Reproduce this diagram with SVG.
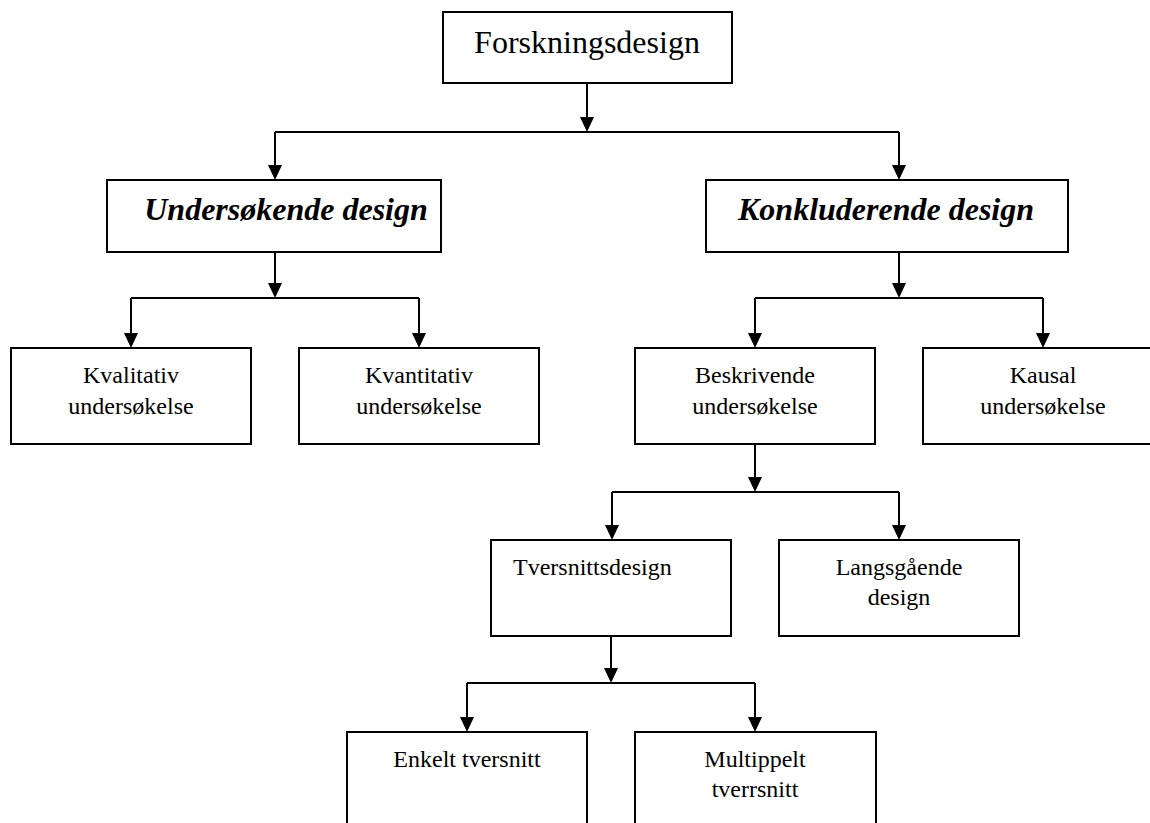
<svg xmlns="http://www.w3.org/2000/svg" width="1150" height="823" viewBox="0 0 1150 823">
<style>
.box{fill:#fff;stroke:#000;stroke-width:2}
.t{font-family:"Liberation Serif",Tinos,"Times New Roman","DejaVu Serif",serif;fill:#000;text-anchor:middle}
.s24{font-size:24px}
.s32{font-size:32px}
.bi{font-weight:bold;font-style:italic}
.c{fill:none;stroke:#000;stroke-width:2}
</style>
<rect width="1150" height="823" fill="#fff"/>
<g id="connectors">
<path class="c" d="M587,83 V118"/><polygon points="580,117 594,117 587,132"/>
<path class="c" d="M275,132 H899"/>
<path class="c" d="M275,132 V166"/><polygon points="268,165 282,165 275,180"/>
<path class="c" d="M899,132 V166"/><polygon points="892,165 906,165 899,180"/>
<path class="c" d="M275,252 V284"/><polygon points="268,283 282,283 275,298"/>
<path class="c" d="M131,298 H419"/>
<path class="c" d="M131,298 V334"/><polygon points="124,333 138,333 131,348"/>
<path class="c" d="M419,298 V334"/><polygon points="412,333 426,333 419,348"/>
<path class="c" d="M899,252 V284"/><polygon points="892,283 906,283 899,298"/>
<path class="c" d="M755,298 H1043"/>
<path class="c" d="M755,298 V334"/><polygon points="748,333 762,333 755,348"/>
<path class="c" d="M1043,298 V334"/><polygon points="1036,333 1050,333 1043,348"/>
<path class="c" d="M755,444 V478"/><polygon points="748,477 762,477 755,492"/>
<path class="c" d="M612,492 H899"/>
<path class="c" d="M612,492 V526"/><polygon points="605,525 619,525 612,540"/>
<path class="c" d="M899,492 V526"/><polygon points="892,525 906,525 899,540"/>
<path class="c" d="M611,636 V669"/><polygon points="604,668 618,668 611,683"/>
<path class="c" d="M467,683 H755"/>
<path class="c" d="M467,683 V718"/><polygon points="460,717 474,717 467,732"/>
<path class="c" d="M755,683 V718"/><polygon points="748,717 762,717 755,732"/>
</g>
<g id="forskningsdesign"><rect class="box" x="443" y="12" width="289" height="71"/><text class="t s32" x="587" y="53" font-family="Liberation Serif, serif">Forskningsdesign</text></g>
<g id="undersokende"><rect class="box" x="107" y="180" width="334" height="72"/><text class="t s32 bi" x="286" y="220">Undersøkende design</text></g>
<g id="konkluderende"><rect class="box" x="706" y="180" width="362" height="72"/><text class="t s32 bi" x="886" y="220">Konkluderende design</text></g>
<g id="kvalitativ"><rect class="box" x="11" y="348" width="240" height="96"/><text class="t s24" x="131" y="383">Kvalitativ</text><text class="t s24" x="131" y="414">undersøkelse</text></g>
<g id="kvantitativ"><rect class="box" x="299" y="348" width="240" height="96"/><text class="t s24" x="419" y="383">Kvantitativ</text><text class="t s24" x="419" y="414">undersøkelse</text></g>
<g id="beskrivende"><rect class="box" x="635" y="348" width="240" height="96"/><text class="t s24" x="755" y="383">Beskrivende</text><text class="t s24" x="755" y="414">undersøkelse</text></g>
<g id="kausal"><rect class="box" x="923" y="348" width="240" height="96"/><text class="t s24" x="1043" y="383">Kausal</text><text class="t s24" x="1043" y="414">undersøkelse</text></g>
<g id="tversnittsdesign"><rect class="box" x="491" y="540" width="240" height="96"/><text class="t s24" x="513" y="575" style="text-anchor:start">Tversnittsdesign</text></g>
<g id="langsgaende"><rect class="box" x="779" y="540" width="240" height="96"/><text class="t s24" x="899" y="575">Langsgående</text><text class="t s24" x="899" y="605">design</text></g>
<g id="enkelt"><rect class="box" x="347" y="732" width="240" height="100"/><text class="t s24" x="467" y="767">Enkelt tversnitt</text></g>
<g id="multippelt"><rect class="box" x="635" y="732" width="241" height="100"/><text class="t s24" x="755" y="767">Multippelt</text><text class="t s24" x="755" y="797">tverrsnitt</text></g>
</svg>
